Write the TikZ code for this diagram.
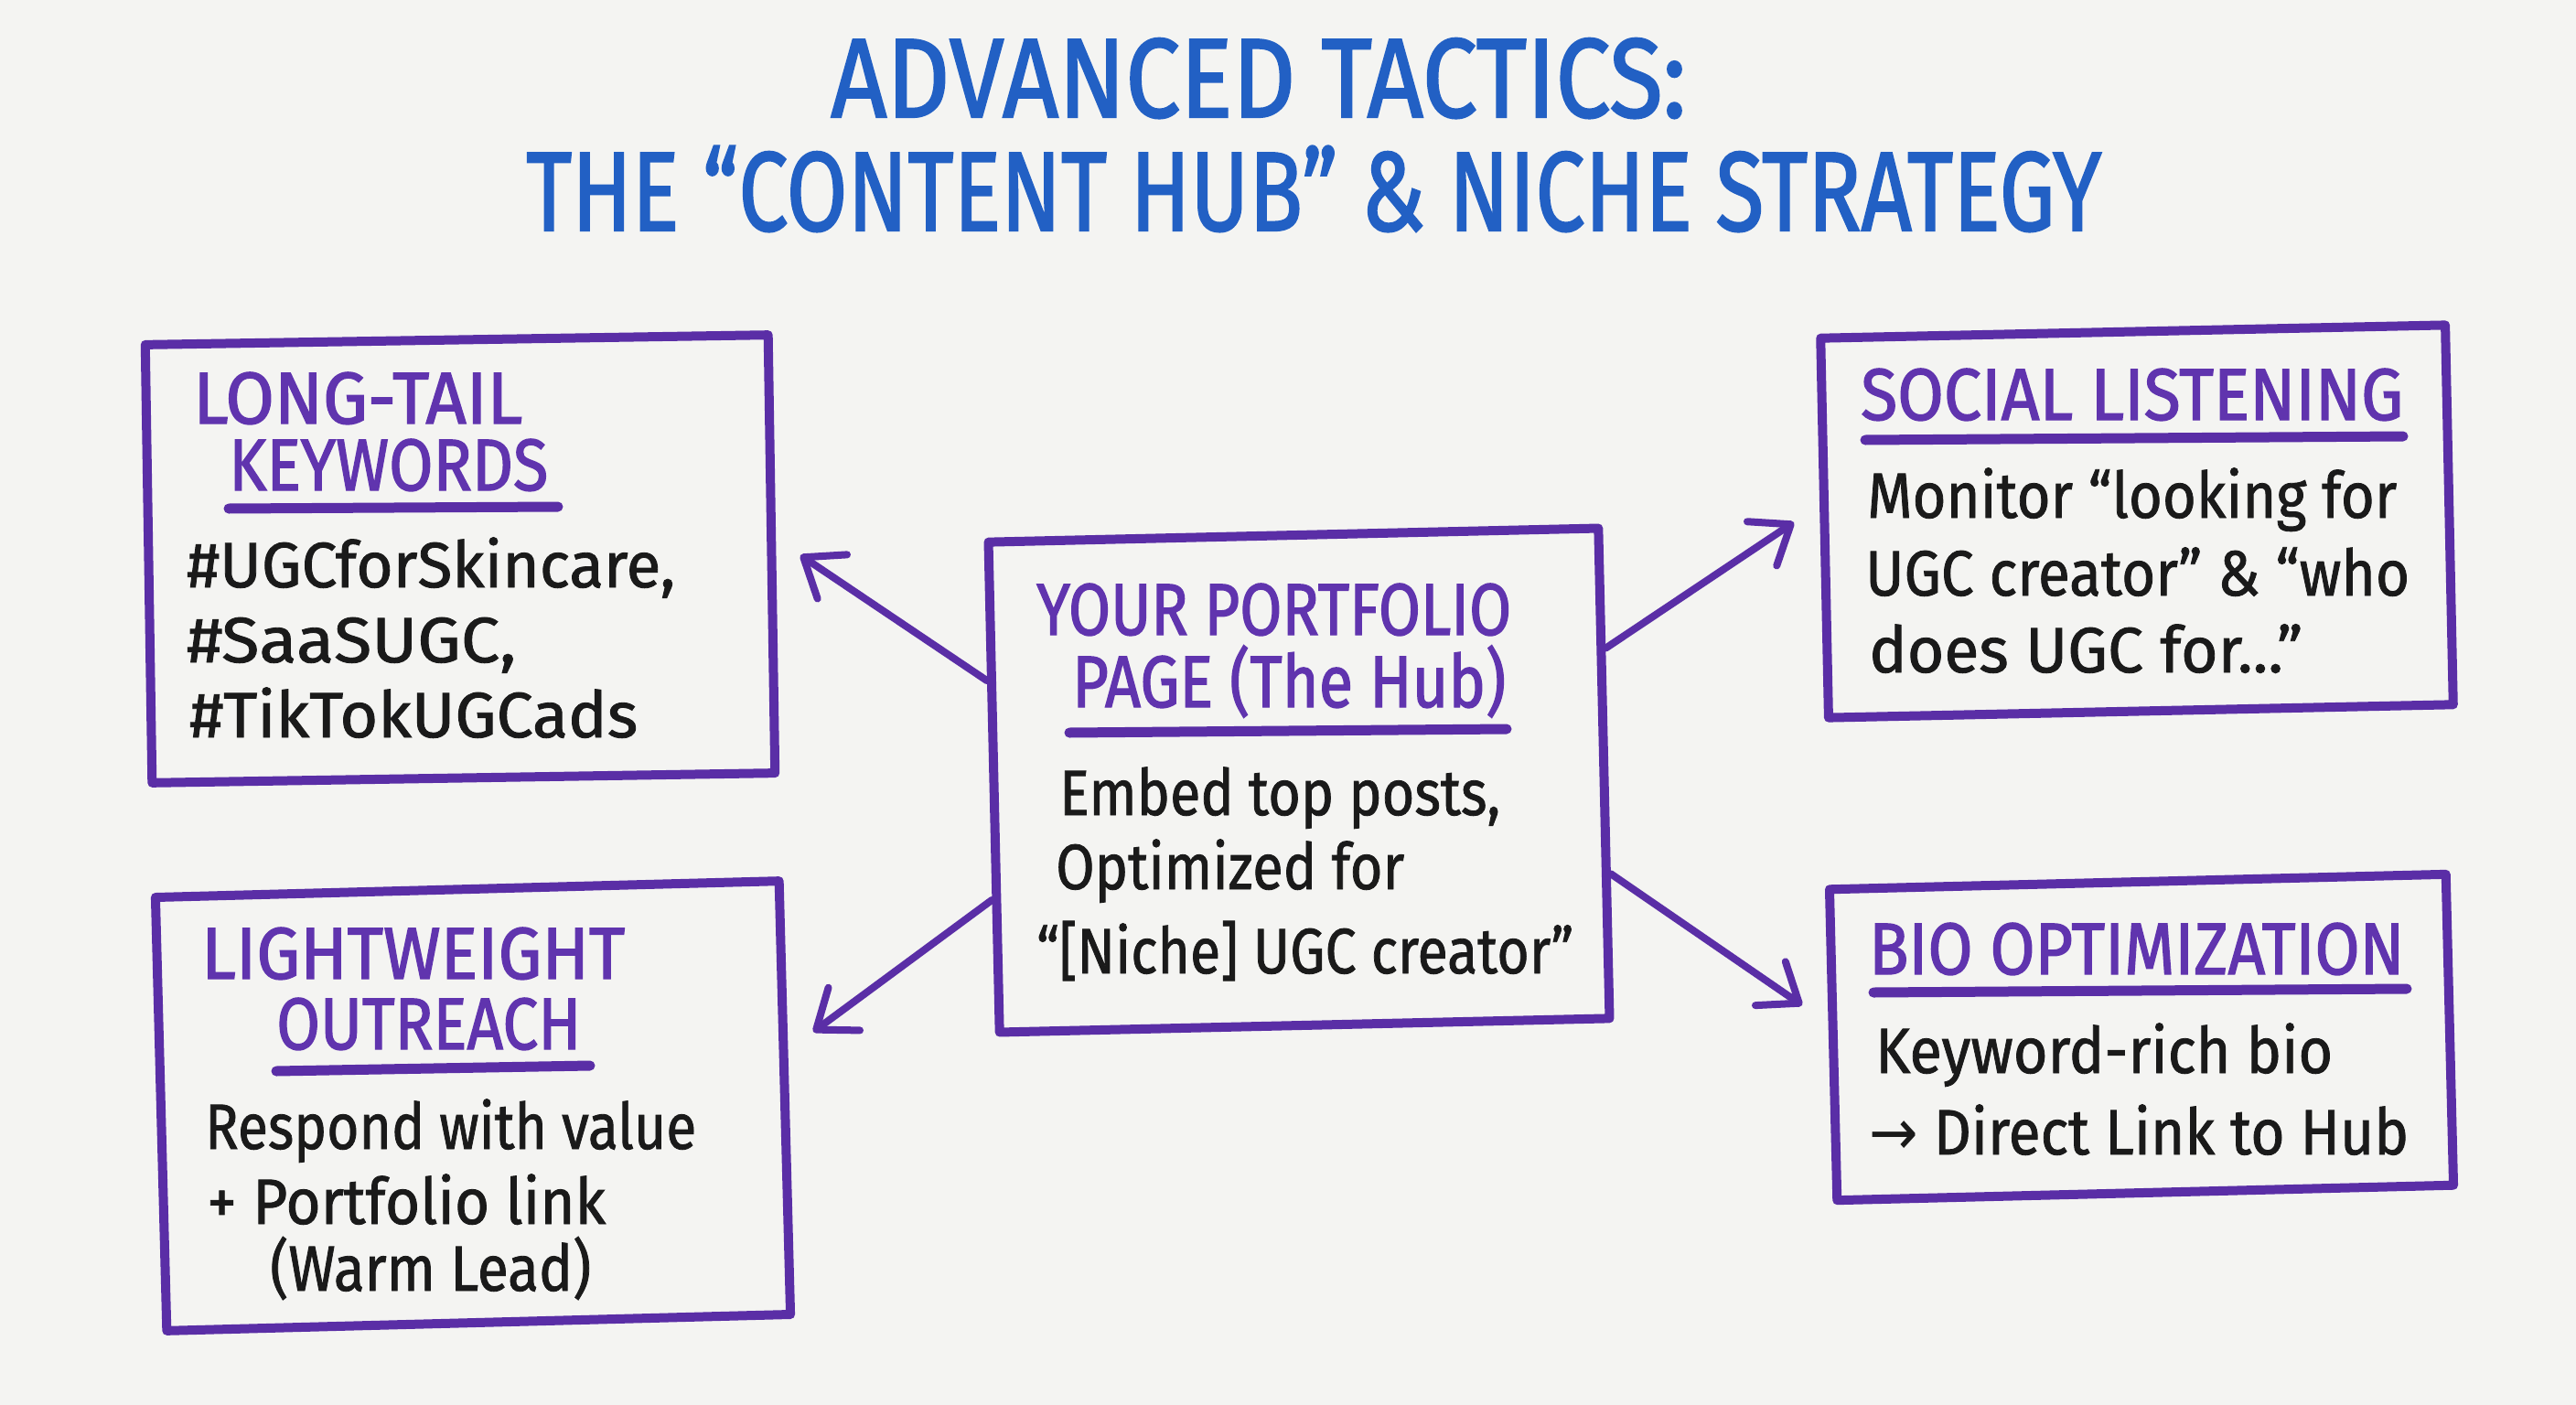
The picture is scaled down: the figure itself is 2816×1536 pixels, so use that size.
\documentclass[tikz,border=0pt]{standalone}
\usepackage{fontspec}
\usepackage{graphicx}
\setmainfont{Fira Sans}
\newfontfamily\bodyf[FakeBold=1.2]{Fira Sans}
\newfontfamily\headf[FakeBold=1.8]{Fira Sans}
\newfontfamily\symf{DejaVu Sans}
\usetikzlibrary{arrows.meta}
\definecolor{bg}{HTML}{F4F4F2}
\definecolor{pur}{HTML}{5A2EA6}
\definecolor{purt}{HTML}{6034AE}
\definecolor{ttl}{HTML}{2260C4}
\definecolor{ink}{HTML}{1A1A1A}
\newcommand{\fw}[2]{\resizebox{#1pt}{\height}{#2}}
\begin{document}
\begin{tikzpicture}[x=1pt,y=-1pt,
  box/.style={draw=pur, line width=10pt, line join=round, rectangle, inner sep=0pt},
  bodytxt/.style={inner sep=0pt, anchor=base west, text=ink, font=\bodyf\fontsize{70}{80}\selectfont},
  headtxt/.style={inner sep=0pt, anchor=base west, text=purt, font=\headf\fontsize{80}{84}\selectfont},
  ttltxt/.style={inner sep=0pt, anchor=base west, text=ttl, font=\headf\fontsize{123}{130}\selectfont},
  uline/.style={draw=pur, line width=11pt, line cap=round},
  conn/.style={draw=pur, line width=8pt, line cap=round, line join=round,
    -{Straight Barb[length=38pt,width=58pt,line width=8pt,round]}}
]
\fill[bg] (0,0) rectangle (2816,1536);
\useasboundingbox (0,0) rectangle (2816,1536);

% title
\node[ttltxt] (t1) at (908,128) {\fw{935}{ADVANCED TACTICS:}};
\node[ttltxt] (t2) at (575,252) {\fw{1722}{THE “CONTENT HUB” \& NICHE STRATEGY}};

% boxes
\node[box, minimum width=681pt, minimum height=479pt, rotate=0.9] (lt) at (503,611) {};
\node[box, minimum width=682pt, minimum height=474pt, rotate=1.5] (lw) at (517,1209) {};
\node[box, minimum width=667pt, minimum height=536pt, rotate=1.3] (hub) at (1420,853) {};
\node[box, minimum width=683pt, minimum height=415pt, rotate=1.2] (sl) at (2336,570) {};
\node[box, minimum width=674pt, minimum height=340pt, rotate=1.4] (bio) at (2341,1134) {};

% long-tail keywords
\node[headtxt] (lth1) at (211,463) {\fw{360}{LONG-TAIL}};
\node[headtxt] (lth2) at (250,536) {\fw{349}{KEYWORDS}};
\draw[uline] (250,556) -- (610,554);
\node[bodytxt] (ltb1) at (204,642) {\fw{534}{\#UGCforSkincare,}};
\node[bodytxt] (ltb2) at (204,724) {\fw{360}{\#SaaSUGC,}};
\node[bodytxt] (ltb3) at (207,806) {\fw{490}{\#TikTokUGCads}};

% lightweight outreach
\node[headtxt] (lwh1) at (220,1070) {\fw{463}{LIGHTWEIGHT}};
\node[headtxt] (lwh2) at (302,1147) {\fw{333}{OUTREACH}};
\draw[uline] (302,1171) -- (645,1165);
\node[bodytxt] (lwb1) at (224,1256) {\fw{537}{Respond with value}};
\node[bodytxt] (lwb2) at (226,1338) {\fw{436}{+ Portfolio link}};
\node[bodytxt] (lwb3) at (295,1411) {\fw{351}{(Warm Lead)}};

% hub
\node[headtxt] (hbh1) at (1133,694) {\fw{519}{YOUR PORTFOLIO}};
\node[headtxt] (hbh2) at (1172,773) {\fw{474}{PAGE (The Hub)}};
\draw[uline] (1169,801) -- (1647,797);
\node[bodytxt] (hbb1) at (1158,891) {\fw{482}{Embed top posts,}};
\node[bodytxt] (hbb2) at (1154,972) {\fw{381}{Optimized for}};
\node[bodytxt] (hbb3) at (1133,1064) {\fw{587}{“[Niche] UGC creator”}};

% social listening
\node[headtxt] (slh1) at (2034,459) {\fw{593}{SOCIAL LISTENING}};
\draw[uline] (2039,481) -- (2627,477);
\node[bodytxt] (slb1) at (2041,566) {\fw{579}{Monitor “looking for}};
\node[bodytxt] (slb2) at (2039,651) {\fw{595}{UGC creator” \& “who}};
\node[bodytxt] (slb3) at (2043,735) {\fw{474}{does UGC for...”}};

% bio optimization
\node[headtxt] (bih1) at (2043,1065) {\fw{585}{BIO OPTIMIZATION}};
\draw[uline] (2048,1085) -- (2631,1081);
\node[bodytxt] (bib1) at (2050,1173) {\fw{500}{Keyword-rich bio}};
\node[bodytxt] (bib2) at (2043,1262) {\fw{590}{{\symf →} Direct Link to Hub}};

% connectors
\coordinate (e1) at (875,607);
\coordinate (e2) at (889,1128);
\coordinate (e3) at (1961,571);
\coordinate (e4) at (1970,1099);
\draw[conn] (hub.161) -- (e1);
\draw[conn] (hub.200) -- (e2);
\draw[conn] (hub.22) -- (e3);
\draw[conn] (hub.342) -- (e4);
\end{tikzpicture}
\end{document}
